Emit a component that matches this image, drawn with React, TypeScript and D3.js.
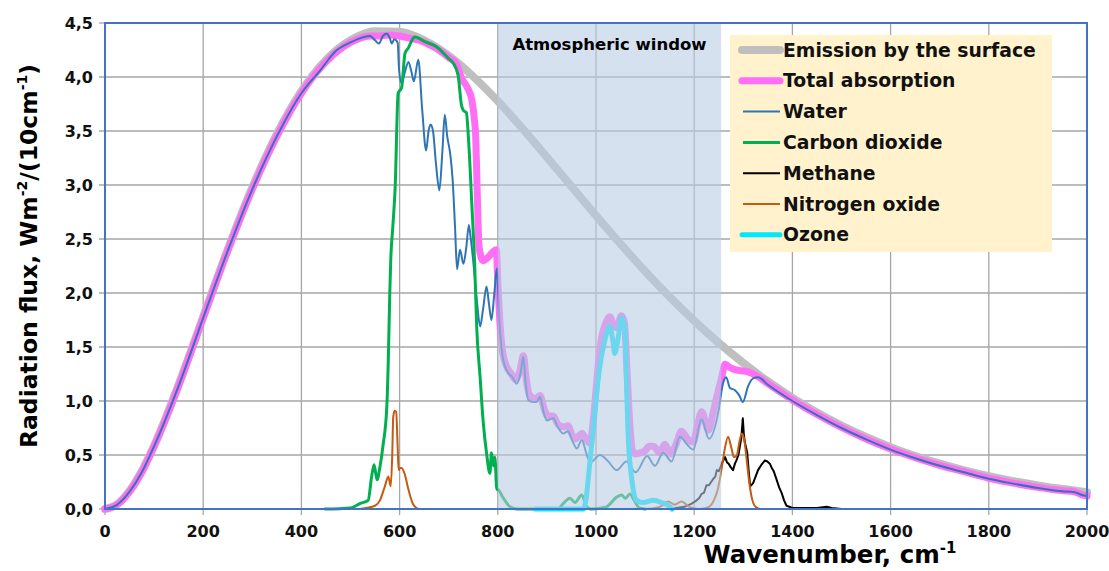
import React from "react";
import * as d3 from "d3";

type P = [number, number];

const xTicks = [0, 200, 400, 600, 800, 1000, 1200, 1400, 1600, 1800, 2000];
const yTicks = [0, 0.5, 1, 1.5, 2, 2.5, 3, 3.5, 4, 4.5];
const yTickLabels = ["0,0", "0,5", "1,0", "1,5", "2,0", "2,5", "3,0", "3,5", "4,0", "4,5"];
const windowRange: [number, number] = [800, 1255];

const emission: P[] = [
  [0, 0], [25, 0.045], [50, 0.167], [75, 0.353], [100, 0.587], [150, 1.153], [200, 1.78], [250, 2.404],
  [300, 2.979], [350, 3.472], [400, 3.868], [450, 4.157], [500, 4.34], [550, 4.424], [600, 4.419],
  [650, 4.339], [700, 4.196], [750, 4.004], [800, 3.777], [850, 3.524], [900, 3.258], [950, 2.987],
  [1000, 2.717], [1050, 2.454], [1100, 2.202], [1150, 1.964], [1200, 1.743], [1250, 1.538], [1300, 1.352],
  [1350, 1.182], [1400, 1.03], [1450, 0.894], [1500, 0.773], [1550, 0.667], [1600, 0.573], [1650, 0.491],
  [1700, 0.42], [1750, 0.358], [1800, 0.304], [1850, 0.258], [1900, 0.219], [1950, 0.185], [2000, 0.156],
];

const totalAbsorption: P[] = [
  [0, 0], [25, 0.04], [50, 0.16], [75, 0.34], [100, 0.58], [150, 1.14], [200, 1.77], [250, 2.39],
  [300, 2.96], [350, 3.45], [400, 3.85], [450, 4.14], [500, 4.32], [540, 4.38], [560, 4.38], [580, 4.39],
  [600, 4.38], [620, 4.36], [640, 4.34], [660, 4.3], [680, 4.25], [700, 4.18], [716, 4.12], [726, 3.99],
  [737, 3.91], [747, 3.79], [752, 3.62], [755, 3.45], [758, 2.95], [762, 2.42], [770, 2.3], [780, 2.33],
  [790, 2.38], [797, 2.4], [800, 2.1], [804, 1.75], [810, 1.45], [818, 1.32], [826, 1.26], [836, 1.2],
  [845, 1.28], [852, 1.42], [858, 1.2], [864, 1.06], [876, 1.02], [886, 1.05], [895, 0.92], [902, 0.86],
  [913, 0.86], [923, 0.78], [935, 0.76], [943, 0.77], [951, 0.69], [958, 0.65], [966, 0.68], [972, 0.7],
  [980, 0.64], [988, 0.61], [994, 0.8], [1000, 1.1], [1006, 1.4], [1012, 1.6], [1020, 1.72], [1028, 1.78],
  [1036, 1.7], [1042, 1.68], [1052, 1.79], [1058, 1.72], [1063, 1.3], [1068, 0.85], [1074, 0.55],
  [1080, 0.51], [1090, 0.52], [1100, 0.54], [1108, 0.58], [1117, 0.58], [1130, 0.52], [1140, 0.6],
  [1152, 0.51], [1163, 0.6], [1174, 0.72], [1188, 0.64], [1198, 0.62], [1207, 0.78], [1215, 0.9],
  [1229, 0.73], [1238, 0.88], [1246, 1.04], [1255, 1.2], [1263, 1.34], [1273, 1.31], [1283, 1.29],
  [1296, 1.28], [1310, 1.27], [1325, 1.24], [1350, 1.16], [1400, 1.01], [1450, 0.875], [1500, 0.755],
  [1550, 0.648], [1600, 0.555], [1650, 0.475], [1700, 0.405], [1750, 0.345], [1800, 0.285], [1850, 0.24],
  [1900, 0.2], [1950, 0.17], [1975, 0.16], [1990, 0.13], [2000, 0.12],
];

const water: P[] = [
  [0, 0], [25, 0.04], [50, 0.16], [75, 0.34], [100, 0.58], [150, 1.14], [200, 1.77], [250, 2.39],
  [300, 2.96], [350, 3.45], [400, 3.85], [438, 4.06], [470, 4.24], [500, 4.32], [520, 4.36], [540, 4.38],
  [550, 4.34], [558, 4.31], [566, 4.38], [574, 4.4], [580, 4.36], [584, 4.31], [589, 4.35], [596, 4.32],
  [599, 4.06], [604, 3.94], [611, 4.05], [618, 4.14], [624, 4.05], [629, 3.96], [638, 4.16], [646, 3.7],
  [654, 3.32], [659, 3.5], [663, 3.56], [668, 3.5], [674, 3.2], [681, 2.95], [687, 3.3], [692, 3.65],
  [697, 3.45], [703, 3.29], [708, 3.05], [713, 2.6], [717, 2.22], [723, 2.4], [730, 2.27], [736, 2.43],
  [741, 2.63], [745, 2.5], [752, 2.2], [758, 1.9], [764, 1.69], [770, 1.85], [777, 2.06], [782, 1.9],
  [787, 1.75], [793, 2.0], [798, 2.23], [803, 1.75], [811, 1.38], [821, 1.26], [830, 1.22], [838, 1.16],
  [846, 1.25], [852, 1.41], [857, 1.15], [862, 1.01], [872, 0.99], [879, 0.99], [886, 1.04], [893, 0.9],
  [900, 0.82], [913, 0.84], [922, 0.76], [933, 0.7], [943, 0.72], [952, 0.63], [961, 0.56], [971, 0.64],
  [980, 0.52], [988, 0.43], [1008, 0.5], [1025, 0.44], [1042, 0.36], [1062, 0.44], [1081, 0.34],
  [1104, 0.49], [1120, 0.4], [1137, 0.52], [1154, 0.44], [1171, 0.67], [1185, 0.6], [1198, 0.55],
  [1215, 0.83], [1230, 0.65], [1250, 0.92], [1258, 1.15], [1265, 1.22], [1273, 1.12], [1283, 1.1],
  [1292, 1.05], [1299, 0.99], [1310, 1.14], [1320, 1.21], [1330, 1.22], [1350, 1.15], [1400, 1.0],
  [1450, 0.87], [1500, 0.75], [1550, 0.645], [1600, 0.55], [1650, 0.47], [1700, 0.4], [1750, 0.34],
  [1800, 0.28], [1850, 0.235], [1900, 0.195], [1950, 0.165], [1975, 0.155], [1990, 0.13], [2000, 0.12],
];

const carbonDioxide: P[] = [
  [448, 0], [500, 0.01], [519, 0.05], [536, 0.08], [543, 0.3], [548, 0.41], [554, 0.27], [560, 0.39],
  [566, 0.58], [574, 0.95], [577, 1.38], [580, 2.0], [582, 2.31], [586, 2.6], [591, 2.98], [597, 3.85],
  [604, 3.9], [611, 4.22], [618, 4.27], [624, 4.33], [631, 4.37], [650, 4.33], [675, 4.28], [700, 4.17],
  [709, 4.13], [719, 4.02], [726, 3.74], [730, 3.69], [736, 3.67], [740, 3.45], [747, 2.83], [753, 2.25],
  [757, 1.69], [764, 1.22], [770, 0.82], [777, 0.52], [784, 0.33], [787, 0.52], [791, 0.4], [794, 0.48],
  [798, 0.18], [800, 0.18], [810, 0.11], [825, 0.02], [840, 0], [923, 0], [933, 0.05], [947, 0.1],
  [957, 0.06], [971, 0.13], [981, 0.02], [990, 0], [1021, 0.02], [1042, 0.11], [1052, 0.13],
  [1060, 0.1], [1069, 0.14], [1078, 0.08], [1088, 0.01], [1100, 0],
];

const methane: P[] = [
  [1150, 0], [1180, 0.02], [1195, 0.05], [1205, 0.08], [1210, 0.1], [1215, 0.14], [1220, 0.15],
  [1225, 0.22], [1230, 0.22], [1239, 0.28], [1243, 0.3], [1246, 0.36], [1250, 0.35], [1253, 0.38],
  [1258, 0.44], [1263, 0.48], [1267, 0.43], [1270, 0.42], [1274, 0.39], [1279, 0.36], [1283, 0.42],
  [1286, 0.45], [1290, 0.5], [1293, 0.58], [1296, 0.66], [1299, 0.84], [1301, 0.7], [1303, 0.62],
  [1308, 0.52], [1311, 0.35], [1314, 0.21], [1320, 0.24], [1325, 0.3], [1330, 0.36], [1337, 0.41],
  [1344, 0.45], [1349, 0.44], [1354, 0.42], [1358, 0.38], [1362, 0.35], [1368, 0.27], [1373, 0.2],
  [1378, 0.15], [1383, 0.08], [1388, 0.03], [1400, 0.01], [1450, 0.01], [1470, 0.02], [1480, 0.01],
  [1500, 0],
];

const nitrogenOxide: P[] = [
  [519, 0], [550, 0.03], [560, 0.08], [570, 0.21], [577, 0.3], [582, 0.21], [585, 0.5], [587, 0.85],
  [590, 0.91], [593, 0.9], [596, 0.58], [598, 0.36], [601, 0.38], [604, 0.38], [610, 0.33], [618, 0.18],
  [628, 0.04], [640, 0], [1100, 0], [1130, 0.02], [1147, 0.07], [1160, 0.04], [1174, 0.07], [1190, 0.02],
  [1210, 0], [1230, 0.02], [1240, 0.08], [1248, 0.18], [1255, 0.35], [1262, 0.55], [1269, 0.67],
  [1276, 0.56], [1281, 0.48], [1287, 0.5], [1292, 0.62], [1297, 0.7], [1302, 0.64], [1307, 0.45],
  [1312, 0.25], [1317, 0.11], [1325, 0.02], [1335, 0], [1500, 0],
];

const ozone: P[] = [
  [876, 0], [974, 0], [980, 0.1], [984, 0.27], [994, 0.73], [1004, 1.19], [1018, 1.56], [1028, 1.69],
  [1035, 1.54], [1038, 1.44], [1044, 1.55], [1052, 1.77], [1059, 1.66], [1062, 1.19], [1065, 0.73],
  [1073, 0.27], [1083, 0.08], [1096, 0.06], [1117, 0.08], [1133, 0.06], [1151, 0.02], [1155, 0],
];

const legendLabels = [
  "Emission by the surface", "Total absorption", "Water", "Carbon dioxide", "Methane", "Nitrogen oxide", "Ozone",
];

const FONT = "'DejaVu Sans', Verdana, sans-serif";

export default function App() {
  const W = 1109, H = 571;
  const x = d3.scaleLinear().domain([0, 2000]).range([105, 1087]);
  const y = d3.scaleLinear().domain([0, 4.5]).range([509, 23]);

  const smooth = d3.line<P>().x(d => x(d[0])).y(d => y(d[1])).curve(d3.curveMonotoneX);
  const sharp = d3.line<P>().x(d => x(d[0])).y(d => y(d[1]));

  const series = [
    { data: emission, color: "#BFBFBF", width: 8, gen: smooth },
    { data: totalAbsorption, color: "#FF6EF5", width: 7, gen: smooth },
    { data: water, color: "#2E75B6", width: 2, gen: smooth },
    { data: carbonDioxide, color: "#00B050", width: 3, gen: smooth },
    { data: methane, color: "#000000", width: 2, gen: sharp },
    { data: nitrogenOxide, color: "#C55A11", width: 2, gen: smooth },
    { data: ozone, color: "#00E8FF", width: 5, gen: smooth },
  ];

  const [x0, x1] = x.range();
  const [yb, yt] = y.range();

  return (
    <svg width={W} height={H} style={{ position: "absolute", left: 0, top: 0, background: "#fff" }}
      fontFamily={FONT}>
      {/* grid */}
      {yTicks.slice(1, -1).map(t => (
        <line key={"gy" + t} x1={x0 - 6} x2={x1} y1={y(t)} y2={y(t)} stroke="#A6A6A6" strokeWidth={1.3} />
      ))}
      {xTicks.slice(1, -1).map(t => (
        <line key={"gx" + t} x1={x(t)} x2={x(t)} y1={yt} y2={yb + 6} stroke="#A6A6A6" strokeWidth={1.3} />
      ))}
      <line x1={x(0)} x2={x(0)} y1={yb} y2={yb + 6} stroke="#A6A6A6" strokeWidth={1.3} />
      <line x1={x(2000)} x2={x(2000)} y1={yb} y2={yb + 6} stroke="#A6A6A6" strokeWidth={1.3} />
      <line x1={x0 - 6} x2={x0} y1={yb} y2={yb} stroke="#A6A6A6" strokeWidth={1.3} />
      <line x1={x0 - 6} x2={x0} y1={yt} y2={yt} stroke="#A6A6A6" strokeWidth={1.3} />

      {/* series */}
      {series.map((s, i) => (
        <path key={i} d={s.gen(s.data) || ""} fill="none" stroke={s.color} strokeWidth={s.width}
          strokeLinejoin="round" strokeLinecap="round" />
      ))}

      {/* atmospheric window overlay */}
      <rect x={x(windowRange[0])} y={yt} width={x(windowRange[1]) - x(windowRange[0])} height={yb - yt}
        fill="#B8CCE4" fillOpacity={0.58} />

      {/* plot border */}
      <rect x={x0} y={yt} width={x1 - x0} height={yb - yt} fill="none" stroke="#4472C4" strokeWidth={2} />

      <text x={(x(windowRange[0]) + x(windowRange[1])) / 2} y={50} textAnchor="middle" fontSize={16.5}
        fontWeight="bold" fill="#000">Atmospheric window</text>

      {/* y tick labels */}
      {yTicks.map((t, i) => (
        <text key={"yl" + t} x={93} y={y(t) + 6} textAnchor="end" fontSize={16} fontWeight="bold" fill="#111">
          {yTickLabels[i]}
        </text>
      ))}
      {/* x tick labels */}
      {xTicks.map(t => (
        <text key={"xl" + t} x={x(t)} y={537} textAnchor="middle" fontSize={16} fontWeight="bold" fill="#111">
          {t}
        </text>
      ))}

      {/* axis titles */}
      <text x={830} y={563} textAnchor="middle" fontSize={24.5} fontWeight="bold" fill="#000">
        Wavenumber, cm<tspan dy={-10} fontSize={15}>-1</tspan>
      </text>
      <text transform="translate(37,256) rotate(-90)" textAnchor="middle" fontSize={23.5} fontWeight="bold" fill="#000">
        Radiation flux, Wm<tspan dy={-10} fontSize={14}>-2</tspan><tspan dy={10}>/(10cm</tspan>
        <tspan dy={-10} fontSize={14}>-1</tspan><tspan dy={10}>)</tspan>
      </text>

      {/* legend */}
      <rect x={730} y={35} width={322} height={217} fill="#FFF2CC" />
      {legendLabels.map((lab, i) => {
        const cy = 50 + i * 30.8;
        const s = series[i];
        const thick = s.width >= 5;
        return (
          <g key={lab}>
            <line x1={thick ? 742 : 743} x2={780} y1={cy} y2={cy} stroke={s.color}
              strokeWidth={s.width} strokeLinecap={thick ? "round" : "butt"} />
            <text x={783} y={cy + 6.5} fontSize={18.8} fontWeight="bold" fill="#111">{lab}</text>
          </g>
        );
      })}
    </svg>
  );
}
